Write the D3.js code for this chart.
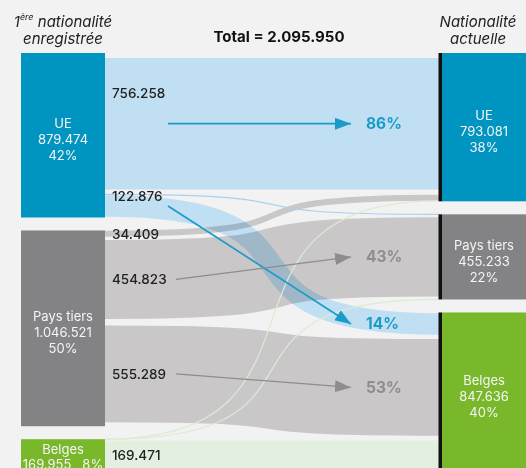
<!DOCTYPE html>
<html>
<head>
<meta charset="utf-8">
<script src="https://cdn.jsdelivr.net/npm/d3@7"></script>
<style>
  body { margin: 0; background: #f2f2f2; }
  svg { display: block; font-family: Inter, "Noto Sans", sans-serif; }
</style>
</head>
<body>
<div id="chart"></div>
<script>
// groups, same order on both sides
var groups = ["UE", "Pays tiers", "Belges"];
var firstValues = [879474, 1046521, 169955];   // 1ère nationalité enregistrée
var currentValues = [793081, 455233, 847636];  // nationalité actuelle
var total = 2095950;

// flows first -> current
var flowFrom = [0, 0, 0, 1, 1, 1, 2, 2, 2];
var flowTo = [0, 1, 2, 0, 1, 2, 0, 1, 2];
var flowValues = [756258, 340, 122876, 34409, 454823, 555289, 414, 70, 169471];
var arrowFlows = [0, 2, 4, 5];

var groupColor = ["#0094c1", "#838284", "#79b82a"];
var linkColor = ["#ccebff", "#d4d2d3", "#f0fdec"];   // multiplied over the grey page
var hairColor = ["#a9d1ef", "#b9b7b8", "#dcecd4"];
var pctColor = ["#1b9cc8", "#8d8d8d", "#8d8d8d"];

var W = 526, H = 468;
var topY = 53, pad = 13;
var leftX = 21, rightX = 442, nodeW = 84;
var linkX0 = leftX + nodeW, linkX1 = 439;
var curve = 0.75;   // how long the bezier handles are

var be = d3.formatLocale({decimal: ",", thousands: ".", grouping: [3], currency: ["", " €"]});
var fmt = be.format(",d");
var pct = function(v, of) { return Math.round(v / of * 100) + "%"; };

var h = d3.scaleLinear().domain([0, total]).range([0, 392]);

function stack(values) {
    var y = topY;
    return values.map(function(v, i) {
        var n = {i: i, value: v, y0: y, y1: y + h(v)};
        y = n.y1 + pad;
        return n;
    });
}
var left = stack(firstValues),
    right = stack(currentValues);

// link slots inside each node
var flows = flowValues.map(function(v, i) {
    return {i: i, value: v, from: flowFrom[i], to: flowTo[i], w: h(v)};
});
left.forEach(function(n) {
    var y = n.y0;
    flows.filter(function(f) { return f.from === n.i; })
        .sort(function(a, b) { return a.to - b.to; })
        .forEach(function(f) { f.sy0 = y; y += f.w; f.sy1 = y; f.sy = (f.sy0 + f.sy1) / 2; });
});
right.forEach(function(n) {
    var y = n.y0;
    flows.filter(function(f) { return f.to === n.i; })
        .sort(function(a, b) { return a.from - b.from; })
        .forEach(function(f) { f.ty0 = y; y += f.w; f.ty1 = y; f.ty = (f.ty0 + f.ty1) / 2; });
});

var svg = d3.select("#chart").append("svg")
    .attr("width", W)
    .attr("height", H);

svg.append("rect")
    .attr("width", W)
    .attr("height", H)
    .attr("fill", "#f2f2f2");

function link(d) {
    var p = d3.path(), dx = linkX1 - linkX0;
    p.moveTo(linkX0, d.sy);
    p.bezierCurveTo(linkX0 + curve * dx, d.sy, linkX1 - curve * dx, d.ty, linkX1, d.ty);
    return p.toString();
}

// bands
svg.append("g")
    .selectAll("path")
    .data(flows.filter(function(f) { return f.w >= 2; }))
    .enter().append("path")
    .attr("d", link)
    .attr("fill", "none")
    .attr("stroke", function(d) { return linkColor[d.from]; })
    .attr("stroke-width", function(d) { return d.w * 0.93; })
    .style("mix-blend-mode", "multiply");

// tiny flows as hairlines
svg.append("g")
    .selectAll("path")
    .data(flows.filter(function(f) { return f.w < 2; }))
    .enter().append("path")
    .attr("d", link)
    .attr("fill", "none")
    .attr("stroke", function(d) { return hairColor[d.from]; })
    .attr("stroke-width", 1.2);

// nodes
function drawNodes(nodes, x, border) {
    var g = svg.append("g");
    if (border) {
        g.selectAll("rect.border")
            .data(nodes)
            .enter().append("rect")
            .attr("class", "border")
            .attr("x", x - 3.5)
            .attr("y", function(d) { return d.y0; })
            .attr("width", 3.5)
            .attr("height", function(d) { return d.y1 - d.y0; })
            .attr("fill", "#111");
    }
    g.selectAll("rect.node")
        .data(nodes)
        .enter().append("rect")
        .attr("class", "node")
        .attr("x", x)
        .attr("y", function(d) { return d.y0; })
        .attr("width", nodeW)
        .attr("height", function(d) { return d.y1 - d.y0; })
        .attr("fill", function(d) { return groupColor[d.i]; });

    nodes.forEach(function(d) {
        var cx = x + nodeW / 2, cy = (d.y0 + d.y1) / 2;
        var lines = d.y1 - d.y0 > 50
            ? [[groups[d.i], cy - 12], [fmt(d.value), cy + 4], [pct(d.value, total), cy + 20]]
            : [[groups[d.i], cy - 6.5], [fmt(d.value) + "   " + pct(d.value, total), cy + 8.5]];
        lines.forEach(function(l) {
            g.append("text")
                .attr("x", cx)
                .attr("y", l[1])
                .attr("text-anchor", "middle")
                .attr("dominant-baseline", "central")
                .attr("font-size", "13px")
                .attr("fill", "#f5f5f5")
                .style("white-space", "pre")
                .text(l[0]);
        });
    });
}
drawNodes(left, leftX, false);
drawNodes(right, rightX, true);

// value labels on the left of the bands
var labelY = function(f) {
    return (f.from === 0 && arrowFlows.indexOf(f.i) >= 0) ? Math.max(f.sy - 31, f.sy0 + 1) : f.sy;
};
svg.append("g")
    .selectAll("text")
    .data(flows.filter(function(f) { return f.value >= 10000; }))
    .enter().append("text")
    .attr("x", 112)
    .attr("y", labelY)
    .attr("dominant-baseline", "central")
    .attr("font-size", "13.5px")
    .attr("font-weight", 500)
    .attr("fill", "#222")
    .text(function(d) { return fmt(d.value); });

// arrows and share of the source group
var defs = svg.append("defs");
[0, 1].forEach(function(k) {
    defs.append("marker")
        .attr("id", "head" + k)
        .attr("markerUnits", "userSpaceOnUse")
        .attr("markerWidth", 17)
        .attr("markerHeight", 12)
        .attr("refX", 16)
        .attr("refY", 6)
        .attr("orient", "auto")
        .append("path")
        .attr("d", "M0,0L16,6L0,12Z")
        .attr("fill", pctColor[k]);
});

var arrows = flows.filter(function(f) { return arrowFlows.indexOf(f.i) >= 0; });
svg.append("g")
    .selectAll("line")
    .data(arrows)
    .enter().append("line")
    .attr("x1", function(d) { return d.from === 0 ? 168 : 176; })
    .attr("y1", function(d) { return d.from === 0 ? d.sy : labelY(d); })
    .attr("x2", 351)
    .attr("y2", function(d) { return d.ty; })
    .attr("stroke", function(d) { return pctColor[d.from]; })
    .attr("stroke-width", function(d) { return d.from === 0 ? 1.7 : 1.3; })
    .attr("marker-end", function(d) { return "url(#head" + (d.from === 0 ? 0 : 1) + ")"; });

svg.append("g")
    .selectAll("text")
    .data(arrows)
    .enter().append("text")
    .attr("x", 366)
    .attr("y", function(d) { return d.ty; })
    .attr("dominant-baseline", "central")
    .attr("font-size", "15.5px")
    .attr("font-weight", 700)
    .attr("fill", function(d) { return pctColor[d.from]; })
    .text(function(d) { return pct(d.value, firstValues[d.from]); });

// headers
var head = svg.append("g")
    .attr("font-size", "15px")
    .attr("font-style", "italic")
    .attr("fill", "#222")
    .attr("text-anchor", "middle");

var h1 = head.append("text").attr("x", leftX + nodeW / 2).attr("y", 21).attr("dominant-baseline", "central");
h1.append("tspan").text("1");
h1.append("tspan").attr("font-size", "9px").attr("dy", -5).text("ère");
h1.append("tspan").attr("dy", 5).text(" nationalité");
head.append("text").attr("x", leftX + nodeW / 2).attr("y", 38.5).attr("dominant-baseline", "central").text("enregistrée");

head.append("text").attr("x", rightX + nodeW / 2 - 6).attr("y", 21).attr("dominant-baseline", "central").text("Nationalité");
head.append("text").attr("x", rightX + nodeW / 2 - 6).attr("y", 38.5).attr("dominant-baseline", "central").text("actuelle");

svg.append("text")
    .attr("x", 279)
    .attr("y", 36)
    .attr("text-anchor", "middle")
    .attr("dominant-baseline", "central")
    .attr("font-size", "15px")
    .attr("font-weight", 700)
    .attr("fill", "#111")
    .text("Total = " + fmt(total));
</script>
</body>
</html>
